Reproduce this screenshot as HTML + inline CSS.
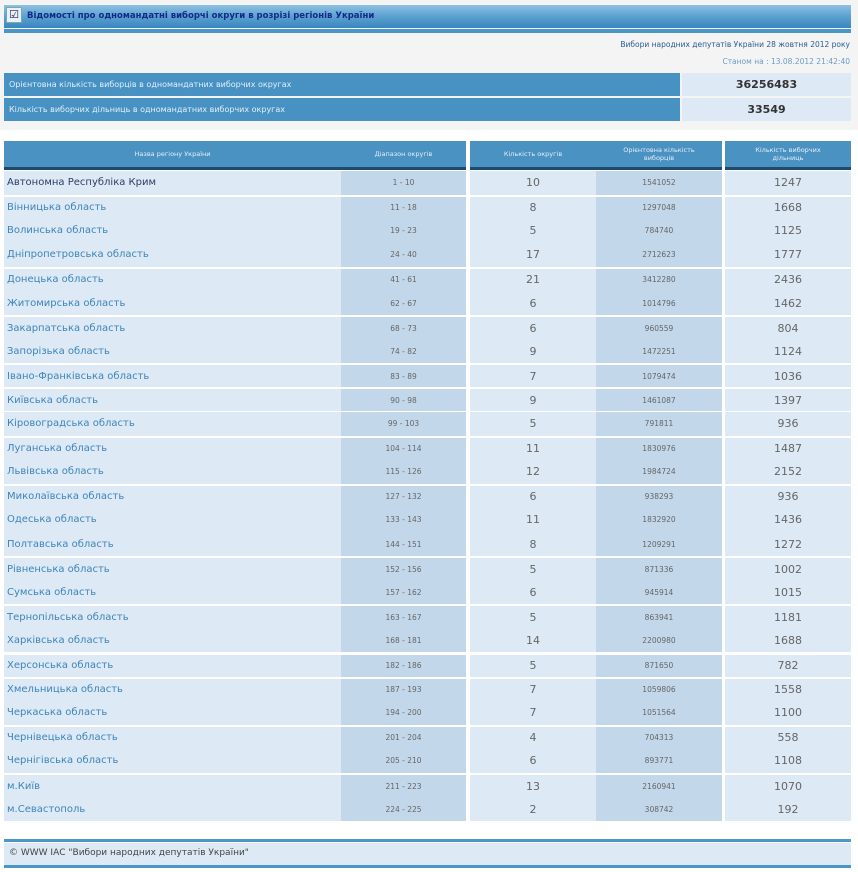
<!DOCTYPE html>
<html><head><meta charset="utf-8"><style>
*{margin:0;padding:0;box-sizing:border-box}
body{width:858px;height:872px;background:#f4f4f4;font-family:"DejaVu Sans","Liberation Sans",sans-serif;position:relative;overflow:hidden}
.abs{position:absolute}
.title{left:4px;top:5px;width:847px;height:23px;background:linear-gradient(#8fc1e3,#5aa0d0 50%,#3b86bf);}
.tline{left:4px;top:29px;width:847px;height:4px;background:#4b96c8}
.chk{left:6px;top:7px;width:16px;height:16px;background:#e8f0f8;border:1px solid #7aa;color:#225;font-size:11px;line-height:14px;text-align:center}
.ttext{left:27px;top:11px;font-size:8.5px;font-weight:bold;color:#142a8a}
.r1{right:8px;top:40px;font-size:7.5px;color:#2a5c92}
.r2{right:8px;top:57px;font-size:7.5px;color:#6a9cc8}
.sb{left:4px;width:676px;height:23px;background:#4792c3;color:#e4eef8;font-size:8px;padding:7px 0 0 5px}
.sv{left:682px;width:169px;height:23px;background:#dde9f4;color:#333;font-size:11px;font-weight:bold;text-align:center;line-height:23px}
.hd{top:141px;height:29px;background:#4a92c2;border-bottom:3px solid #1d4a6e;color:#e6eef8;font-size:6.5px;text-align:center;display:flex;align-items:center;justify-content:center;line-height:8px}
.row{position:absolute;left:4px;width:847px;height:24.1px}
.row.g{border-top:2px solid #fff}
.c{position:absolute;top:0;bottom:0;display:flex;align-items:center;justify-content:center;color:#666}
.n{left:0;width:337px;background:#dde9f4;justify-content:flex-start;padding-left:3px;color:#3d84bb;font-size:10px}
.d{left:337px;width:125px;background:#c3d7ea;font-size:7.5px}
.k{left:462px;width:4px;background:#fff}
.o{left:466px;width:126px;background:#dde9f4;font-size:11px}
.v{left:592px;width:126px;background:#c3d7ea;font-size:7.5px}
.w{left:718px;width:3px;background:#fff}
.s{left:721px;width:126px;background:#dde9f4;font-size:11px}
.fl{left:4px;width:847px;height:3px;background:#4b96c8}
.ft{left:4px;top:843px;width:847px;height:22px;background:#dde9f4;font-size:9px;color:#444;padding:5px 0 0 5px}
</style></head><body>
<div class="abs" style="left:0;top:130px;width:858px;height:742px;background:#fff"></div>
<div class="abs title"></div>
<div class="abs chk">☑</div>
<div class="abs ttext">Відомості про одномандатні виборчі округи в розрізі регіонів України</div>
<div class="abs tline"></div>
<div class="abs r1">Вибори народних депутатів України 28 жовтня 2012 року</div>
<div class="abs r2">Станом на : 13.08.2012 21:42:40</div>
<div class="abs sb" style="top:73px">Орієнтовна кількість виборців в одномандатних виборчих округах</div>
<div class="abs sv" style="top:73px">36256483</div>
<div class="abs sb" style="top:98px">Кількість виборчих дільниць в одномандатних виборчих округах</div>
<div class="abs sv" style="top:98px">33549</div>
<div class="abs hd" style="left:4px;width:462px"><span style="position:absolute;left:0;width:337px">Назва регіону України</span><span style="position:absolute;left:337px;width:125px">Діапазон округів</span></div>
<div class="abs hd" style="left:470px;width:252px"><span style="position:absolute;left:0;width:126px">Кількість округів</span><span style="position:absolute;left:126px;width:126px">Орієнтовна кількість<br>виборців</span></div>
<div class="abs hd" style="left:725px;width:126px">Кількість виборчих<br>дільниць</div>

<div class="row" style="top:170.5px"><div class="c n" style="color:#2c3e66">Автономна Республіка Крим</div><div class="c d">1 - 10</div><div class="c k"></div><div class="c o">10</div><div class="c v">1541052</div><div class="c w"></div><div class="c s">1247</div></div>
<div class="row g" style="top:194.6px"><div class="c n">Вінницька область</div><div class="c d">11 - 18</div><div class="c k"></div><div class="c o">8</div><div class="c v">1297048</div><div class="c w"></div><div class="c s">1668</div></div>
<div class="row" style="top:218.7px"><div class="c n">Волинська область</div><div class="c d">19 - 23</div><div class="c k"></div><div class="c o">5</div><div class="c v">784740</div><div class="c w"></div><div class="c s">1125</div></div>
<div class="row" style="top:242.8px"><div class="c n">Дніпропетровська область</div><div class="c d">24 - 40</div><div class="c k"></div><div class="c o">17</div><div class="c v">2712623</div><div class="c w"></div><div class="c s">1777</div></div>
<div class="row g" style="top:266.9px"><div class="c n">Донецька область</div><div class="c d">41 - 61</div><div class="c k"></div><div class="c o">21</div><div class="c v">3412280</div><div class="c w"></div><div class="c s">2436</div></div>
<div class="row" style="top:291.0px"><div class="c n">Житомирська область</div><div class="c d">62 - 67</div><div class="c k"></div><div class="c o">6</div><div class="c v">1014796</div><div class="c w"></div><div class="c s">1462</div></div>
<div class="row g" style="top:315.1px"><div class="c n">Закарпатська область</div><div class="c d">68 - 73</div><div class="c k"></div><div class="c o">6</div><div class="c v">960559</div><div class="c w"></div><div class="c s">804</div></div>
<div class="row" style="top:339.2px"><div class="c n">Запорізька область</div><div class="c d">74 - 82</div><div class="c k"></div><div class="c o">9</div><div class="c v">1472251</div><div class="c w"></div><div class="c s">1124</div></div>
<div class="row g" style="top:363.3px"><div class="c n">Івано-Франківська область</div><div class="c d">83 - 89</div><div class="c k"></div><div class="c o">7</div><div class="c v">1079474</div><div class="c w"></div><div class="c s">1036</div></div>
<div class="row g" style="top:387.4px"><div class="c n">Київська область</div><div class="c d">90 - 98</div><div class="c k"></div><div class="c o">9</div><div class="c v">1461087</div><div class="c w"></div><div class="c s">1397</div></div>
<div class="row" style="top:411.5px"><div class="c n">Кіровоградська область</div><div class="c d">99 - 103</div><div class="c k"></div><div class="c o">5</div><div class="c v">791811</div><div class="c w"></div><div class="c s">936</div></div>
<div class="row g" style="top:435.6px"><div class="c n">Луганська область</div><div class="c d">104 - 114</div><div class="c k"></div><div class="c o">11</div><div class="c v">1830976</div><div class="c w"></div><div class="c s">1487</div></div>
<div class="row" style="top:459.7px"><div class="c n">Львівська область</div><div class="c d">115 - 126</div><div class="c k"></div><div class="c o">12</div><div class="c v">1984724</div><div class="c w"></div><div class="c s">2152</div></div>
<div class="row g" style="top:483.8px"><div class="c n">Миколаївська область</div><div class="c d">127 - 132</div><div class="c k"></div><div class="c o">6</div><div class="c v">938293</div><div class="c w"></div><div class="c s">936</div></div>
<div class="row" style="top:507.9px"><div class="c n">Одеська область</div><div class="c d">133 - 143</div><div class="c k"></div><div class="c o">11</div><div class="c v">1832920</div><div class="c w"></div><div class="c s">1436</div></div>
<div class="row" style="top:532.0px"><div class="c n">Полтавська область</div><div class="c d">144 - 151</div><div class="c k"></div><div class="c o">8</div><div class="c v">1209291</div><div class="c w"></div><div class="c s">1272</div></div>
<div class="row g" style="top:556.1px"><div class="c n">Рівненська область</div><div class="c d">152 - 156</div><div class="c k"></div><div class="c o">5</div><div class="c v">871336</div><div class="c w"></div><div class="c s">1002</div></div>
<div class="row" style="top:580.2px"><div class="c n">Сумська область</div><div class="c d">157 - 162</div><div class="c k"></div><div class="c o">6</div><div class="c v">945914</div><div class="c w"></div><div class="c s">1015</div></div>
<div class="row g" style="top:604.3px"><div class="c n">Тернопільська область</div><div class="c d">163 - 167</div><div class="c k"></div><div class="c o">5</div><div class="c v">863941</div><div class="c w"></div><div class="c s">1181</div></div>
<div class="row" style="top:628.4px"><div class="c n">Харківська область</div><div class="c d">168 - 181</div><div class="c k"></div><div class="c o">14</div><div class="c v">2200980</div><div class="c w"></div><div class="c s">1688</div></div>
<div class="row g" style="top:652.5px"><div class="c n">Херсонська область</div><div class="c d">182 - 186</div><div class="c k"></div><div class="c o">5</div><div class="c v">871650</div><div class="c w"></div><div class="c s">782</div></div>
<div class="row g" style="top:676.6px"><div class="c n">Хмельницька область</div><div class="c d">187 - 193</div><div class="c k"></div><div class="c o">7</div><div class="c v">1059806</div><div class="c w"></div><div class="c s">1558</div></div>
<div class="row" style="top:700.7px"><div class="c n">Черкаська область</div><div class="c d">194 - 200</div><div class="c k"></div><div class="c o">7</div><div class="c v">1051564</div><div class="c w"></div><div class="c s">1100</div></div>
<div class="row g" style="top:724.8px"><div class="c n">Чернівецька область</div><div class="c d">201 - 204</div><div class="c k"></div><div class="c o">4</div><div class="c v">704313</div><div class="c w"></div><div class="c s">558</div></div>
<div class="row" style="top:748.9px"><div class="c n">Чернігівська область</div><div class="c d">205 - 210</div><div class="c k"></div><div class="c o">6</div><div class="c v">893771</div><div class="c w"></div><div class="c s">1108</div></div>
<div class="row g" style="top:773.0px"><div class="c n">м.Київ</div><div class="c d">211 - 223</div><div class="c k"></div><div class="c o">13</div><div class="c v">2160941</div><div class="c w"></div><div class="c s">1070</div></div>
<div class="row" style="top:797.1px"><div class="c n">м.Севастополь</div><div class="c d">224 - 225</div><div class="c k"></div><div class="c o">2</div><div class="c v">308742</div><div class="c w"></div><div class="c s">192</div></div>

<div class="abs fl" style="top:839px"></div>
<div class="abs ft">© WWW ІАС "Вибори народних депутатів України"</div>
<div class="abs fl" style="top:865px"></div>
</body></html>
